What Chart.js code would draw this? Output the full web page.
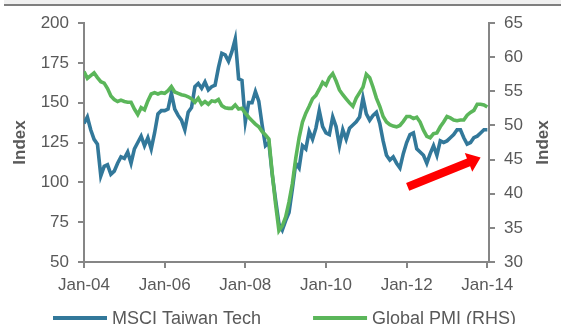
<!DOCTYPE html>
<html>
<head>
<meta charset="utf-8">
<script src="https://cdn.jsdelivr.net/npm/chart.js@4/dist/chart.umd.min.js"></script>
<style>
html,body{margin:0;padding:0;background:#fff}
</style>
</head>
<body>
<canvas id="chart" width="561" height="324"></canvas>
<script>
// monthly, Jan-04 .. Jan-14
const xTickLabels = ["Jan-04","Jan-06","Jan-08","Jan-10","Jan-12","Jan-14"];
const seriesNames = ["MSCI Taiwan Tech","Global PMI (RHS)"];

const taiwanTech = [
 137,141,133,127,124,104,110,111,105,107,
 112,116,115,119,112,121,125,129,123,128,
 121,131,143,145,145,146,156,146,142,139,
 133,144,147,160,162,159,163,158,160,161,
 172,181,180,176,182,190,165,164,138,150,
 150,157,151,136,123,125,105,89,74,70,
 76,81,96,112,109,123,121,132,127,134,
 145,135,131,130,141,135,123,133,127,134,
 136,138,141,153,143,139,142,144,137,126,
 117,114,116,112,109,118,125,130,131,121,
 119,117,112,118,123,117,126,125,126,128,
 130,133,133,128,124,125,128,129,131,133,
 133
];
const globalPMI = [
 57.9,56.9,57.3,57.7,57.0,56.4,56.2,55.4,54.3,53.8,
 53.5,53.7,53.5,53.4,53.4,52.4,51.6,52.6,52.3,53.6,
 54.6,54.8,54.6,54.8,54.7,55.1,55.7,54.9,54.7,54.5,
 54.4,54.2,53.9,53.4,54.0,53.1,53.5,53.1,53.6,53.5,
 53.8,52.9,52.6,52.5,52.5,53.0,52.4,52.5,51.8,51.2,
 50.7,50.2,49.8,49.1,48.6,48.0,43.0,38.5,34.6,35.3,
 36.6,38.8,41.5,45.2,48.2,50.5,51.8,52.8,53.9,54.4,
 55.3,56.3,55.9,57.0,57.6,56.5,55.2,54.5,53.9,53.3,
 52.8,54.0,54.8,55.6,57.5,57.0,55.6,54.0,52.8,51.3,
 50.5,50.1,49.9,49.8,50.0,50.6,51.3,51.3,51.0,51.2,
 50.5,49.3,48.4,48.2,48.8,48.9,49.8,50.5,51.3,51.1,
 50.8,50.7,50.8,50.8,51.5,51.9,52.2,53.1,53.1,53.0,
 52.7
];

// trend arrow, in (month, PMI) units
const arrowFrom = [96.3, 41.0];
const arrowTo = [118.0, 45.3];

const BLUE = "#32789a", GREEN = "#5bb65a", GREY = "#595959", AXIS = "#868686";
Chart.defaults.font.family = "'Liberation Sans', Arial, sans-serif";
Chart.defaults.color = GREY;

const pts = arr => arr.map((v, i) => ({x: i, y: v}));

const extras = {
 id: "extras",
 beforeDraw(c) {
  const ctx = c.ctx;
  ctx.save();
  ctx.fillStyle = "#f0f0f0";
  ctx.fillRect(4, 0, c.width - 4, 4);
  ctx.fillStyle = "#7f7f7f";
  ctx.fillRect(4, 4, c.width - 4, 2);
  ctx.restore();
 },
 afterDraw(c) {
  const ctx = c.ctx, sx = c.scales.x, sy = c.scales.y1, a = c.chartArea;
  ctx.save();

  // red arrow
  const x0 = sx.getPixelForValue(arrowFrom[0]), y0 = sy.getPixelForValue(arrowFrom[1]);
  const x1 = sx.getPixelForValue(arrowTo[0]), y1 = sy.getPixelForValue(arrowTo[1]);
  const ang = Math.atan2(y1 - y0, x1 - x0), len = Math.hypot(x1 - x0, y1 - y0);
  ctx.translate(x0, y0); ctx.rotate(ang);
  ctx.fillStyle = "#ff0000";
  ctx.beginPath();
  ctx.moveTo(0, -4.2); ctx.lineTo(len - 13, -4.2); ctx.lineTo(len - 13, -10);
  ctx.lineTo(len, 0);
  ctx.lineTo(len - 13, 10); ctx.lineTo(len - 13, 4.2); ctx.lineTo(0, 4.2);
  ctx.closePath(); ctx.fill();
  ctx.setTransform(1, 0, 0, 1, 0, 0);

  // axis titles
  ctx.fillStyle = GREY;
  ctx.font = "bold 17px 'Liberation Sans', Arial, sans-serif";
  ctx.textAlign = "center"; ctx.textBaseline = "middle";
  const cy = (a.top + a.bottom) / 2;
  [20, 543].forEach(tx => {
   ctx.save(); ctx.translate(tx, cy); ctx.rotate(-Math.PI / 2);
   ctx.fillText("Index", 0, 0); ctx.restore();
  });

  // legend
  ctx.font = "18px 'Liberation Sans', Arial, sans-serif";
  ctx.textAlign = "left"; ctx.textBaseline = "alphabetic";
  let lx = 53;
  c.data.datasets.forEach(ds => {
   ctx.fillStyle = ds.borderColor;
   ctx.fillRect(lx, 316, 54, 4);
   ctx.fillStyle = GREY;
   ctx.fillText(ds.label, lx + 59, 324);
   lx += 59 + ctx.measureText(ds.label).width + 52;
  });
  ctx.restore();
 }
};

const yTicks = {color: GREY, font: {size: 17}, padding: 9};

new Chart(document.getElementById("chart"), {
 type: "line",
 data: {
  datasets: [
   {label: seriesNames[0], data: pts(taiwanTech), yAxisID: "y", borderColor: BLUE,
    borderWidth: 3.6, pointRadius: 0, order: 2},
   {label: seriesNames[1], data: pts(globalPMI), yAxisID: "y1", borderColor: GREEN,
    borderWidth: 3.6, pointRadius: 0, order: 1}
  ]
 },
 options: {
  responsive: false,
  animation: false,
  layout: {padding: {top: 23, left: 0, right: 0, bottom: 32}},
  plugins: {legend: {display: false}, tooltip: {enabled: false}},
  scales: {
   x: {
    type: "linear", min: 0, max: 120.5,
    afterBuildTicks: s => { s.ticks = xTickLabels.map((t, i) => ({value: i * 24})); },
    afterFit: s => { s.height = 30; },
    ticks: {color: GREY, font: {size: 17}, padding: 7, maxRotation: 0,
     callback: v => xTickLabels[v / 24]},
    grid: {drawOnChartArea: false, drawTicks: true, tickLength: 6, color: AXIS, lineWidth: 2},
    border: {color: AXIS, width: 2}
   },
   y: {
    position: "left", min: 50, max: 200,
    afterBuildTicks: s => { s.ticks = [50,75,100,125,150,175,200].map(v => ({value: v})); },
    afterFit: s => { s.width = 84; },
    ticks: yTicks,
    grid: {drawOnChartArea: false, drawTicks: true, tickLength: 6, color: AXIS, lineWidth: 2},
    border: {color: AXIS, width: 2}
   },
   y1: {
    position: "right", min: 30, max: 65,
    afterBuildTicks: s => { s.ticks = [30,35,40,45,50,55,60,65].map(v => ({value: v})); },
    afterFit: s => { s.width = 72; },
    ticks: yTicks,
    grid: {drawOnChartArea: false, drawTicks: true, tickLength: 6, color: AXIS, lineWidth: 2},
    border: {color: AXIS, width: 2}
   }
  }
 },
 plugins: [extras]
});
</script>
</body>
</html>
